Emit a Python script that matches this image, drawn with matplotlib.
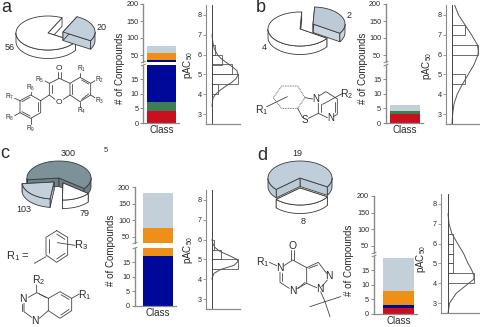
import numpy as np
import matplotlib
matplotlib.use('Agg')
import matplotlib.pyplot as plt
from matplotlib.patches import Polygon

plt.rcParams['font.family'] = ['Liberation Sans', 'DejaVu Sans']
plt.rcParams['mathtext.default'] = 'regular'

W, H = 480, 327
TXT = '#2a2a2a'
AX_COL = '#8a8a8a'
LINE = '#555555'

# stacked bars, bottom to top
class_colors = ['#c8101e', '#3f7d55', '#00089a', '#ee8f17', '#c3d0da']
stack_a = [4, 3, 28, 22, 19]
stack_b = [3, 1, 0, 0, 2]
stack_c = [0, 0, 17, 61, 105]
stack_d = [2, 0, 1, 5, 11]

low_ticks = [0, 5, 10, 15]
high_ticks = [50, 100, 150, 200]
pac_ticks = [3, 4, 5, 6, 7, 8]

# histograms: lower bin edge, count
hist_a_edges = [4.0, 4.5, 5.0, 5.5, 6.0]
hist_a_counts = [7, 29, 22, 11, 3]
hist_b_edges = [4.5, 6.0, 7.0]
hist_b_counts = [1, 2, 1]
hist_c_edges = [4.5, 5.0, 5.5]
hist_c_counts = [130, 45, 8]
hist_d_edges = [4.0, 4.5, 5.0, 5.5, 6.0]
hist_d_counts = [10, 2, 2, 2, 2]

# fitted curves
curve_a_y = [3.4, 3.8, 4.0, 4.2, 4.4, 4.6, 4.8, 5.0, 5.2, 5.4, 5.6, 5.8, 6.0, 6.3, 6.6, 7.0]
curve_a_x = [0, 1, 4, 9, 15, 22, 27, 29, 27.5, 22, 16, 10, 6, 2.5, 1, 0]
curve_b_y = [2.5, 3.0, 3.5, 4.0, 4.5, 5.0, 5.5, 6.0, 6.2, 6.5, 7.0, 7.5, 8.0, 8.5]
curve_b_x = [0, 0.05, 0.15, 0.4, 0.8, 1.25, 1.7, 2.0, 2.02, 1.95, 1.5, 1.0, 0.5, 0.2]
curve_c_y = [4.0, 4.1, 4.3, 4.5, 4.7, 4.9, 5.0, 5.2, 5.4, 5.6, 5.8, 6.0]
curve_c_x = [0, 2, 10, 45, 110, 130, 125, 85, 40, 15, 4, 0]
curve_d_y = [2.5, 3.0, 3.5, 4.0, 4.2, 4.4, 4.7, 5.0, 5.5, 6.0, 6.5, 7.0, 7.5]
curve_d_x = [0, 0.6, 3.2, 8, 9.9, 10, 9, 7.7, 6, 3.7, 1.5, 0.4, 0]

# pie values
pie_a = [56, 20]
pie_b = [4, 2]
pie_c = [300, 103, 79]
pie_d = [19, 8]

fig = plt.figure(figsize=(W / 100, H / 100), dpi=100, facecolor='white')
bg = fig.add_axes([0, 0, 1, 1])
bg.set_xlim(0, W)
bg.set_ylim(H, 0)
bg.axis('off')


def px_axes(x0, y0, x1, y1):
    # x0,y0 top left, x1,y1 bottom right, image pixels
    ax = fig.add_axes([x0 / W, 1 - y1 / H, (x1 - x0) / W, (y1 - y0) / H])
    ax.patch.set_alpha(0)
    return ax


def label(x, y, s, size=6.5, **kw):
    bg.text(x, y, s, fontsize=size, color=TXT, ha='center', va='center', **kw)


def wedge(cx, cy, a0, sweep, face, side, rx=32, ry=17, depth=8.5):
    t = np.radians(np.linspace(a0, a0 + sweep, 90))
    xs = cx + rx * np.cos(t)
    ys = cy - ry * np.sin(t)
    style = dict(edgecolor='#3a3a3a', linewidth=0.6, joinstyle='round')
    for i in (0, -1):
        bg.add_patch(Polygon([(cx, cy), (xs[i], ys[i]), (xs[i], ys[i] + depth), (cx, cy + depth)],
                             facecolor=side, **style))
    front = np.sin(t) <= 0
    if front.any():
        idx = np.where(front)[0]
        # may wrap around in two pieces for large sweeps
        for part in np.split(idx, np.where(np.diff(idx) > 1)[0] + 1):
            pts = list(zip(xs[part], ys[part])) + list(zip(xs[part][::-1], ys[part][::-1] + depth))
            bg.add_patch(Polygon(pts, facecolor=side, **style))
    bg.add_patch(Polygon([(cx, cy)] + list(zip(xs, ys)), facecolor=face, **style))


def bar_panel(spine, bar0, bar1, y200, y_high_bottom, y_low_top, y0, stack, px_high, label_x, label_y, class_y):
    lo = px_axes(spine, y_low_top, bar1 + 3, y0)
    hi = px_axes(spine, y200, bar1 + 3, y_high_bottom)
    lo.set_ylim(0, (y0 - y_low_top) / 2.93)
    hi.set_ylim(50 - (y_high_bottom - (y200 + 150 * px_high)) / px_high, 200)
    width = bar1 + 3 - spine
    for ax in (lo, hi):
        ax.set_xlim(0, width)
        bottom = 0
        for v, c in zip(stack, class_colors):
            if v > 0:
                ax.bar((bar0 + bar1) / 2 - spine, v, width=bar1 - bar0, bottom=bottom, color=c, linewidth=0)
            bottom += v
        ax.set_xticks([])
        ax.spines[['top', 'right']].set_visible(False)
        ax.spines['left'].set_color(AX_COL)
        ax.spines['left'].set_linewidth(1)
        ax.tick_params(axis='y', length=2.5, width=0.7, color=AX_COL, labelsize=5.2, labelcolor=TXT, pad=1)
    hi.spines['bottom'].set_visible(False)
    lo.spines['bottom'].set_color(AX_COL)
    lo.spines['bottom'].set_linewidth(0.9)
    lo.set_yticks(low_ticks)
    hi.set_yticks(high_ticks)
    for dy in (y_high_bottom, y_low_top):
        bg.plot([spine - 2, spine + 2], [dy + 0.8, dy - 0.8], color=AX_COL, lw=0.7)
    label(label_x, label_y, '# of Compounds', size=7, rotation=90)
    label((bar0 + bar1) / 2, class_y, 'Class', size=7)


def hist_panel(spine, base, right, y_top, y_bottom, edges, counts, cx, cy, scale, label_x, label_y):
    ax = px_axes(spine, y_top, right, y_bottom)
    ax.set_ylim(2.5, 8.5)
    ax.set_xlim((spine - base) / scale, (right - base) / scale)
    ax.barh([e + 0.25 for e in edges], counts, height=0.5, left=0, facecolor='none', edgecolor=LINE, linewidth=0.6)
    ax.plot(cx, cy, color=LINE, lw=0.7)
    ax.axvline(0, color='#444444', lw=0.7)
    ax.set_xticks([])
    ax.set_yticks(pac_ticks)
    ax.spines[['top', 'right']].set_visible(False)
    ax.spines['left'].set_color(AX_COL)
    ax.spines['left'].set_linewidth(0.8)
    ax.spines['bottom'].set_color(AX_COL)
    ax.spines['bottom'].set_linewidth(0.9)
    ax.tick_params(axis='y', length=2, width=0.6, color=AX_COL, labelsize=5.2, labelcolor=TXT, pad=1)
    label(label_x, label_y, 'pAC$_{50}$', size=7, rotation=90)


def pie_angles(values):
    return [v / sum(values) * 360 for v in values]


def bonds(ox, oy, path_list, lw=0.6, ls='-'):
    # paths are in 3x zoomed crop coordinates
    for path in path_list:
        p = np.array(path) / 3
        bg.plot(ox + p[:, 0], oy + p[:, 1], color='#444444', lw=lw, ls=ls, solid_capstyle='round')


# pies
LIGHT = '#c3d0dc'
sw = pie_angles(pie_a)
wedge(48, 33, 64, sw[0], 'white', 'white')
wedge(63, 32, 64 - sw[1], sw[1], LIGHT, LIGHT)
sw = pie_angles(pie_b)
wedge(300, 29, 87, sw[0], 'white', 'white')
wedge(313, 24, 87 - sw[1], sw[1], '#bccad7', '#cbd6e0')
sw = pie_angles(pie_c)
wedge(59, 178, 186, -sw[0] + 0, '#7d9199', '#6c8088')
wedge(54, 182, 186, sw[1], LIGHT, LIGHT)
wedge(63, 183, 186 + sw[1] + 6, sw[2] - 6, 'white', 'white')
sw = pie_angles(pie_d)
wedge(300, 188, 222, sw[1], 'white', 'white')
wedge(300, 178, 222 - sw[0], sw[0], '#c0cedb', '#bccad7')

# bars and histograms
bar_panel(143.3, 147, 176, 4, 62, 65, 123, stack_a, 0.34, 120, 68, 130)
bar_panel(386, 390, 420, 4, 62, 65, 123, stack_b, 0.34, 363, 68, 130)
bar_panel(135, 143, 173, 187, 243, 248, 306, stack_c, 0.333, 111, 250, 313)
bar_panel(374, 383, 414, 196, 253, 256, 314, stack_d, 0.333, 349, 260, 321)

hist_panel(206, 212, 240, 5, 124, hist_a_edges, hist_a_counts, curve_a_x, curve_a_y, 0.9, 188, 65)
hist_panel(446, 452, 480, 5, 124, hist_b_edges, hist_b_counts, curve_b_x, curve_b_y, 13, 427, 66)
hist_panel(206, 212, 240, 190, 309, hist_c_edges, hist_c_counts, curve_c_x, curve_c_y, 0.2, 188, 250)
hist_panel(441, 448, 480, 194, 313, hist_d_edges, hist_d_counts, curve_d_x, curve_d_y, 2.6, 421, 259)

# panel letters and pie labels
for x, y, s in [(6, 8, 'a'), (261, 7, 'b'), (5, 154, 'c'), (262, 156, 'd')]:
    label(x, y, s, size=13)
for x, y, s in [(10, 48, '56'), (102, 27, '20'), (264, 48, '4'), (349, 15, '2'),
                (68, 153, '300'), (24, 210, '103'), (85, 213, '79'),
                (297, 153, '19'), (303, 221, '8')]:
    label(x, y, s)
label(106, 151, '5', size=5.5)

# structure a
bonds(0, 60, [[(178, 55), (210, 70), (210, 105), (190, 118)], [(165, 118), (148, 105), (148, 70), (178, 55)],
              [(155, 100), (155, 75)], [(174, 35), (174, 55)], [(182, 35), (182, 55)],
              [(210, 70), (240, 52), (272, 70), (272, 105), (240, 125), (210, 105)],
              [(245, 60), (266, 72)], [(266, 102), (245, 118)], [(215, 102), (215, 73)],
              [(148, 105), (122, 122), (122, 158), (92, 175), (60, 158), (60, 122), (92, 105), (122, 122)],
              [(115, 126), (115, 153)], [(90, 168), (66, 155)], [(66, 125), (90, 112)],
              [(240, 52), (240, 40)], [(272, 70), (285, 62)], [(272, 105), (285, 113)], [(240, 125), (240, 140)],
              [(148, 70), (135, 63)], [(92, 105), (92, 95)], [(60, 122), (44, 115)], [(60, 158), (44, 167)],
              [(92, 175), (92, 192)]])
for x, y, s, sz in [(178, 27, 'O', 6), (178, 128, 'O', 6)]:
    label(x / 3, 60 + y / 3, s, size=sz)
for x, y, s in [(246, 28, 'R$_1$'), (300, 60, 'R$_2$'), (300, 122, 'R$_3$'), (246, 152, 'R$_4$'),
                (120, 59, 'R$_5$'), (92, 84, 'R$_6$'), (28, 112, 'R$_7$'), (28, 173, 'R$_8$'), (92, 207, 'R$_9$')]:
    label(x / 3, 60 + y / 3, s, size=4.8)

# structure b
bonds(250, 75, [[(95, 33), (143, 33), (165, 68)], [(165, 68), (143, 100), (95, 100), (70, 68), (95, 33)]], ls=(0, (1, 1)))
bonds(250, 75, [[(165, 68), (188, 72)], [(143, 100), (158, 128)], [(175, 130), (205, 115), (205, 85)],
                [(212, 110), (212, 88)], [(208, 62), (228, 50), (262, 72), (262, 118), (250, 125)],
                [(255, 80), (255, 112)], [(232, 128), (205, 115)],
                [(50, 95), (112, 65)], [(218, 88), (278, 55)]])
label(250 + 165 / 3, 75 + 135 / 3, 'S', size=7)
label(250 + 198 / 3, 75 + 72 / 3, 'N', size=7)
label(250 + 243 / 3, 75 + 128 / 3, 'N', size=7)
label(250 + 35 / 3, 75 + 105 / 3, 'R$_1$', size=7.5)
label(250 + 290 / 3, 75 + 56 / 3, 'R$_2$', size=7.5)

# structure c
bonds(0, 220, [[(170, 32), (203, 52), (203, 105), (170, 127), (138, 105), (138, 52), (170, 32)],
               [(170, 42), (195, 58)], [(195, 100), (170, 117)], [(146, 100), (146, 58)],
               [(103, 130), (138, 110)], [(172, 68), (225, 76)]])
label(55 / 3 + 0, 220 + 108 / 3, 'R$_1$ =', size=8)
label(243 / 3, 220 + 75 / 3, 'R$_3$', size=8)
bonds(0, 220, [[(110, 195), (110, 218), (145, 235), (180, 215), (215, 235), (215, 272), (180, 295), (145, 272), (145, 235)],
               [(110, 218), (85, 232)], [(72, 250), (72, 275), (95, 292)], [(65, 253), (65, 272)],
               [(118, 295), (145, 272)], [(215, 235), (238, 222)], [(118, 222), (140, 233)],
               [(183, 224), (207, 238)], [(207, 268), (183, 285)]])
label(70 / 3, 220 + 238 / 3, 'N', size=7.5)
label(105 / 3, 220 + 304 / 3, 'N', size=7.5)
label(115 / 3, 220 + 180 / 3, 'R$_2$', size=7.5)
label(255 / 3, 220 + 225 / 3, 'R$_1$', size=7.5)

# structure d
bonds(250, 225, [[(124, 75), (124, 105)], [(132, 75), (132, 105)], [(102, 122), (128, 105), (170, 128), (170, 175), (138, 192)],
                 [(90, 142), (90, 172), (118, 190)], [(97, 145), (97, 168)], [(145, 190), (165, 172)],
                 [(170, 128), (205, 112), (230, 145)], [(176, 130), (203, 120)], [(232, 165), (215, 185)],
                 [(170, 175), (200, 188)], [(212, 200), (225, 230)],
                 [(225, 230), (180, 245)], [(225, 230), (272, 215)], [(225, 230), (240, 275)],
                 [(58, 112), (80, 122)]])
for x, y, s in [(128, 62, 'O'), (90, 130, 'N'), (128, 198, 'N'), (238, 152, 'N'), (210, 192, 'N')]:
    label(250 + x / 3, 225 + y / 3, s, size=7.5)
label(250 + 38 / 3, 225 + 110 / 3, 'R$_1$', size=7.5)

fig.savefig('out.png', dpi=100)
